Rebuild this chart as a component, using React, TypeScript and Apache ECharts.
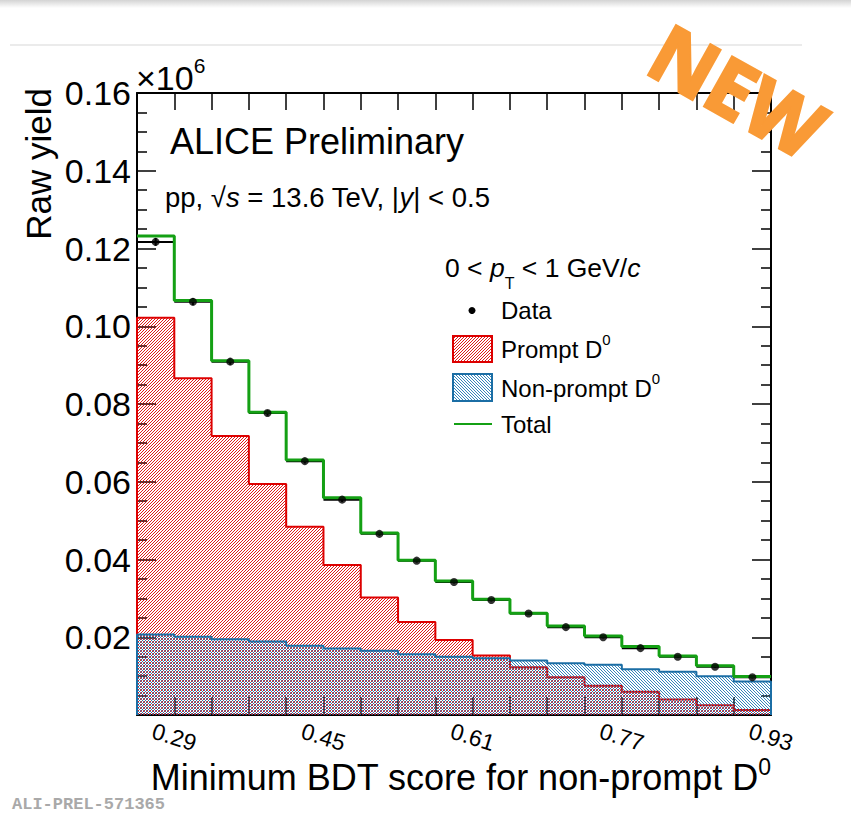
import React, { useEffect, useRef } from 'react';
import * as echarts from 'echarts';

// Bin edges of the BDT-score histogram (x axis)
const binEdges = [0.25, 0.29, 0.33, 0.37, 0.41, 0.45, 0.49, 0.53, 0.57, 0.61, 0.65, 0.69, 0.73, 0.77, 0.81, 0.85, 0.89, 0.93];
const xTickLabels = ['0.29', '0.45', '0.61', '0.77', '0.93'];
const yTickLabels = ['0.02', '0.04', '0.06', '0.08', '0.10', '0.12', '0.14', '0.16'];

// Raw yields (×10^6)
const dataYield = [0.1217, 0.1063, 0.0909, 0.0777, 0.0653, 0.0554, 0.0466, 0.0397, 0.0342, 0.0296, 0.0261, 0.0226, 0.0200, 0.0172, 0.0150, 0.0124, 0.0097];
const dataErr = [0.0010, 0.0009, 0.0008, 0.0007, 0.0006, 0.0006, 0.0005, 0.0005, 0.0004, 0.0004, 0.0004, 0.0003, 0.0003, 0.0003, 0.0003, 0.0003, 0.0003];
const promptYield = [0.1022, 0.0866, 0.0718, 0.0594, 0.0484, 0.0386, 0.0302, 0.0239, 0.0193, 0.0153, 0.0123, 0.0097, 0.0075, 0.0060, 0.0040, 0.0025, 0.0013];
const nonPromptYield = [0.0207, 0.0201, 0.0195, 0.0189, 0.0178, 0.0171, 0.0165, 0.0156, 0.0150, 0.0146, 0.0140, 0.0133, 0.0129, 0.0118, 0.0111, 0.0100, 0.0086];
const totalYield = [0.1232, 0.1066, 0.0911, 0.0779, 0.0656, 0.0559, 0.0468, 0.0398, 0.0345, 0.0298, 0.0262, 0.0229, 0.0203, 0.0176, 0.0152, 0.0127, 0.0099];

const FONT = '"Liberation Sans", Arial, Helvetica, sans-serif';
const RED = '#dd0000';
const BLUE = '#1b6ea5';
const GREEN = '#14a014';

function stepPoints(vals: number[], closed: boolean) {
  const pts: number[][] = [];
  if (closed) pts.push([binEdges[0], 0]);
  vals.forEach((v, i) => {
    pts.push([binEdges[i], v]);
    pts.push([binEdges[i + 1], v]);
  });
  if (closed) pts.push([binEdges[vals.length], 0]);
  return pts;
}

function hatch(color: string, forward: boolean, width: number) {
  const d = forward
    ? 'M-1,1 L1,-1 M0,3 L3,0 M2,4 L4,2'
    : 'M-1,2 L1,4 M0,0 L3,3 M2,-1 L4,1';
  const svg = `<svg xmlns="http://www.w3.org/2000/svg" width="3" height="3"><path d="${d}" stroke="${color}" stroke-width="${width}" fill="none"/></svg>`;
  return {
    image: 'data:image/svg+xml;base64,' + btoa(svg),
    repeat: 'repeat',
    imageWidth: 3,
    imageHeight: 3,
  } as any;
}

export default function App() {
  const ref = useRef<HTMLDivElement>(null);
  useEffect(() => {
    document.body.style.margin = '0';
    const chart = echarts.init(ref.current!, null, { renderer: 'svg' });
    const axisLine = { show: true, onZero: false, lineStyle: { color: '#000', width: 2 } };
    const tickStyle = { color: '#000', width: 1.5 };
    const redHatch = hatch(RED, true, 0.9);
    const blueHatch = hatch('#1f78b4', false, 0.9);
    const option: any = {
      animation: false,
      backgroundColor: '#fff',
      grid: { left: 137, right: 80, top: 93, bottom: 100, containLabel: false, outerBoundsMode: 'none' },
      xAxis: [
        {
          type: 'value', min: 0.25, max: 0.93, interval: 0.04, position: 'bottom',
          axisLine, splitLine: { show: false },
          axisTick: { show: true, inside: true, length: 18, lineStyle: tickStyle },
          axisLabel: {
            show: true, rotate: -17, align: 'center', verticalAlign: 'middle', margin: 22,
            fontSize: 23, fontFamily: FONT, color: '#000', showMinLabel: false,
            formatter: (v: number) => { const s = v.toFixed(2); return xTickLabels.includes(s) ? s : ''; },
          },
        },
        {
          type: 'value', min: 0.25, max: 0.93, interval: 0.04, position: 'top',
          axisLine, splitLine: { show: false },
          axisTick: { show: true, inside: true, length: 17, lineStyle: tickStyle },
          axisLabel: { show: false },
        },
      ],
      yAxis: [
        {
          type: 'value', min: 0, max: 0.16, interval: 0.02, position: 'left',
          axisLine, splitLine: { show: false }, minorSplitLine: { show: false },
          axisTick: { show: true, inside: true, length: 19, lineStyle: tickStyle },
          minorTick: { show: true, splitNumber: 4, length: 10, lineStyle: tickStyle },
          axisLabel: {
            show: true, margin: 6, fontSize: 34, fontFamily: FONT, color: '#000', showMinLabel: false,
            formatter: (v: number) => { const s = v.toFixed(2); return yTickLabels.includes(s) ? s : ''; },
          },
        },
        {
          type: 'value', min: 0, max: 0.16, interval: 0.02, position: 'right',
          axisLine, splitLine: { show: false }, minorSplitLine: { show: false },
          axisTick: { show: true, inside: true, length: 19, lineStyle: tickStyle },
          minorTick: { show: true, splitNumber: 4, length: 10, lineStyle: tickStyle },
          axisLabel: { show: false },
        },
      ],
      series: [
        {
          type: 'line', name: 'Prompt D0', data: stepPoints(promptYield, true),
          showSymbol: false, symbol: 'none', silent: true, z: 2,
          lineStyle: { color: RED, width: 2 },
          areaStyle: { color: redHatch, opacity: 1 },
          emphasis: { disabled: true },
        },
        {
          type: 'line', name: 'Non-prompt D0', data: stepPoints(nonPromptYield, true),
          showSymbol: false, symbol: 'none', silent: true, z: 3,
          lineStyle: { color: BLUE, width: 2 },
          areaStyle: { color: blueHatch, opacity: 1 },
          emphasis: { disabled: true },
        },
        {
          type: 'custom', name: 'Data bars', z: 4, silent: true,
          data: dataYield.map((v, i) => [binEdges[i], binEdges[i + 1], v, dataErr[i]]),
          encode: { x: [0, 1], y: 2 },
          renderItem: (params: any, api: any) => {
            const x0 = api.value(0), x1 = api.value(1), y = api.value(2), e = api.value(3);
            const pL = api.coord([x0, y]);
            const pR = api.coord([x1, y]);
            const xc = (x0 + x1) / 2;
            const pT = api.coord([xc, y + e]);
            const pB = api.coord([xc, y - e]);
            return {
              type: 'group',
              children: [
                { type: 'line', shape: { x1: pL[0], y1: pL[1], x2: pR[0], y2: pR[1] }, style: { stroke: '#000', lineWidth: 2 } },
                { type: 'line', shape: { x1: pT[0], y1: pT[1], x2: pB[0], y2: pB[1] }, style: { stroke: '#000', lineWidth: 2 } },
              ],
            };
          },
        },
        {
          type: 'line', name: 'Total', data: stepPoints(totalYield, false),
          showSymbol: false, symbol: 'none', silent: true, z: 5,
          lineStyle: { color: GREEN, width: 3 },
          emphasis: { disabled: true },
        },
        {
          type: 'scatter', name: 'Data', z: 6, silent: true,
          data: dataYield.map((v, i) => [(binEdges[i] + binEdges[i + 1]) / 2, v]),
          symbol: 'circle', symbolSize: 8, itemStyle: { color: '#000' },
        },
      ],
      graphic: [
        {
          type: 'rect', shape: { x: 0, y: 0, width: 851, height: 8 }, silent: true,
          style: { fill: new echarts.graphic.LinearGradient(0, 0, 0, 1, [{ offset: 0, color: '#d4d4d4' }, { offset: 1, color: '#ffffff' }]) },
        },
        { type: 'line', shape: { x1: 10, y1: 45, x2: 802, y2: 45 }, style: { stroke: '#e4e4e4', lineWidth: 1.5 } },
        {
          type: 'text', x: 136, y: 78,
          style: {
            text: '{m|×10}{s|6}', verticalAlign: 'middle', align: 'left',
            rich: {
              m: { fontSize: 34, fontFamily: FONT, color: '#000' },
              s: { fontSize: 21, fontFamily: FONT, color: '#000', padding: [0, 0, 26, 0] },
            },
          },
        },
        {
          type: 'text', x: 38, y: 88, rotation: Math.PI / 2,
          style: { text: 'Raw yield', fontSize: 35, fontFamily: FONT, fill: '#000', align: 'right', verticalAlign: 'middle' },
        },
        {
          type: 'text', x: 771, y: 777,
          style: {
            text: '{m|Minimum BDT score for non-prompt D}{s|0}', align: 'right', verticalAlign: 'middle',
            rich: {
              m: { fontSize: 36, fontFamily: FONT, color: '#000' },
              s: { fontSize: 23, fontFamily: FONT, color: '#000', padding: [0, 0, 20, 0] },
            },
          },
        },
        {
          type: 'text', x: 170, y: 141,
          style: { text: 'ALICE Preliminary', fontSize: 36, fontFamily: FONT, fill: '#000', align: 'left', verticalAlign: 'middle' },
        },
        {
          type: 'text', x: 165, y: 197,
          style: {
            text: '{n|pp, √}{i|s}{n| = 13.6 TeV, |}{i|y}{n|| < 0.5}', align: 'left', verticalAlign: 'middle',
            rich: {
              n: { fontSize: 27.5, fontFamily: FONT, color: '#000' },
              i: { fontSize: 27.5, fontFamily: FONT, color: '#000', fontStyle: 'italic' },
            },
          },
        },
        {
          type: 'text', x: 445, y: 268,
          style: {
            text: '{n|0 < }{i|p}{t|T}{n| < 1 GeV/}{i|c}', align: 'left', verticalAlign: 'middle',
            rich: {
              n: { fontSize: 26.5, fontFamily: FONT, color: '#000' },
              i: { fontSize: 26.5, fontFamily: FONT, color: '#000', fontStyle: 'italic' },
              t: { fontSize: 16, fontFamily: FONT, color: '#000', padding: [30, 0, 0, 0] },
            },
          },
        },
        { type: 'circle', shape: { cx: 472, cy: 310.5, r: 3.5 }, style: { fill: '#000' } },
        {
          type: 'text', x: 501, y: 310.5,
          style: { text: 'Data', fontSize: 24, fontFamily: FONT, fill: '#000', align: 'left', verticalAlign: 'middle' },
        },
        { type: 'rect', shape: { x: 453, y: 336, width: 39, height: 26 }, style: { fill: redHatch, stroke: RED, lineWidth: 2 } },
        {
          type: 'text', x: 501, y: 349,
          style: {
            text: '{m|Prompt D}{s|0}', align: 'left', verticalAlign: 'middle',
            rich: {
              m: { fontSize: 24, fontFamily: FONT, color: '#000' },
              s: { fontSize: 15, fontFamily: FONT, color: '#000', padding: [0, 0, 19, 0] },
            },
          },
        },
        { type: 'rect', shape: { x: 453, y: 374, width: 39, height: 27 }, style: { fill: blueHatch, stroke: BLUE, lineWidth: 2 } },
        {
          type: 'text', x: 501, y: 388,
          style: {
            text: '{m|Non-prompt D}{s|0}', align: 'left', verticalAlign: 'middle',
            rich: {
              m: { fontSize: 24, fontFamily: FONT, color: '#000' },
              s: { fontSize: 15, fontFamily: FONT, color: '#000', padding: [0, 0, 19, 0] },
            },
          },
        },
        { type: 'line', shape: { x1: 454, y1: 424, x2: 492, y2: 424 }, style: { stroke: GREEN, lineWidth: 2 } },
        {
          type: 'text', x: 501, y: 424,
          style: { text: 'Total', fontSize: 24, fontFamily: FONT, fill: '#000', align: 'left', verticalAlign: 'middle' },
        },
        {
          type: 'text', x: 12, y: 804,
          style: { text: 'ALI-PREL-571365', fontSize: 17, fontWeight: 'bold', fontFamily: '"Liberation Mono", "DejaVu Sans Mono", monospace', fill: '#a9a9a9', align: 'left', verticalAlign: 'middle' },
        },
        {
          type: 'text', x: 738, y: 90, rotation: -0.51, z: 100,
          style: {
            text: 'NEW', fontSize: 79, fontWeight: 'bold', fontFamily: '"Open Sans", "DejaVu Sans", sans-serif',
            fill: '#f99a36', stroke: '#f99a36', lineWidth: 3, lineJoin: 'round',
            align: 'center', verticalAlign: 'middle',
            shadowBlur: 4, shadowColor: 'rgba(0,0,0,0.35)', shadowOffsetX: 2, shadowOffsetY: 3,
          },
        },
      ],
    };
    chart.setOption(option);
    return () => chart.dispose();
  }, []);
  return <div ref={ref} style={{ width: 851, height: 815 }} />;
}
